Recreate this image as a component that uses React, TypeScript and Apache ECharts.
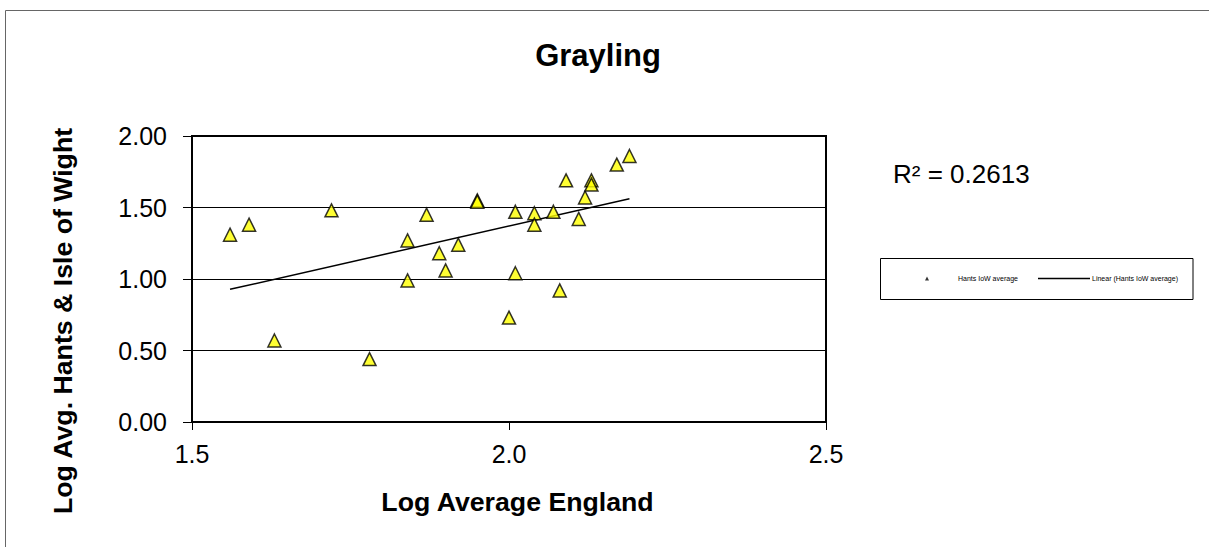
import React, { useEffect, useRef } from "react";
import * as echarts from "echarts";

const englandLog = [1.56, 1.59, 1.63, 1.72, 1.78, 1.84, 1.84, 1.87, 1.89, 1.9, 1.92, 1.95, 1.95, 2.0, 2.01, 2.01, 2.04, 2.04, 2.07, 2.08, 2.09, 2.11, 2.12, 2.13, 2.13, 2.17, 2.19];
const hantsLog = [1.31, 1.38, 0.57, 1.48, 0.44, 1.27, 0.99, 1.45, 1.18, 1.06, 1.24, 1.55, 1.54, 0.73, 1.47, 1.04, 1.46, 1.38, 1.47, 0.92, 1.69, 1.42, 1.57, 1.69, 1.66, 1.8, 1.86];
const xTicks = { min: 1.5, max: 2.5, interval: 0.5 };
const yTicks = { min: 0, max: 2, interval: 0.5 };
const titleText = "Grayling";
const xName = "Log Average England";
const yName = "Log Avg. Hants & Isle of Wight";
const seriesName = "Hants IoW average";
const trendName = "Linear (Hants IoW average)";
const r2Text = "R² = 0.2613";

const FONT = "'Liberation Sans', Arial, sans-serif";

function linearFit(xs: number[], ys: number[]) {
  const n = xs.length;
  const mx = xs.reduce((a, b) => a + b, 0) / n;
  const my = ys.reduce((a, b) => a + b, 0) / n;
  let sxy = 0;
  let sxx = 0;
  for (let i = 0; i < n; i++) {
    sxy += (xs[i] - mx) * (ys[i] - my);
    sxx += (xs[i] - mx) * (xs[i] - mx);
  }
  const slope = sxy / sxx;
  return { slope, intercept: my - slope * mx };
}

export default function App() {
  const ref = useRef<HTMLDivElement>(null);
  useEffect(() => {
    if (!ref.current) return;
    const chart = echarts.init(ref.current, null, { renderer: "svg" });
    const pts = englandLog.map((x, i) => [x, hantsLog[i]]);
    const fit = linearFit(englandLog, hantsLog);
    const x0 = Math.min(...englandLog);
    const x1 = Math.max(...englandLog);
    const trend = [
      [x0, fit.intercept + fit.slope * x0],
      [x1, fit.intercept + fit.slope * x1],
    ];
    chart.setOption({
      animation: false,
      backgroundColor: "#ffffff",
      title: {
        text: titleText,
        left: 598,
        top: 40,
        textAlign: "center",
        padding: 0,
        textStyle: { fontFamily: FONT, fontSize: 31, fontWeight: "bold", color: "#000" },
      },
      grid: {
        left: 192,
        top: 136,
        width: 634,
        height: 286,
        show: true,
        borderColor: "#000",
        borderWidth: 2,
        backgroundColor: "transparent",
      },
      xAxis: {
        type: "value",
        min: xTicks.min,
        max: xTicks.max,
        interval: xTicks.interval,
        name: xName,
        nameLocation: "middle",
        nameGap: 66,
        nameTextStyle: { fontFamily: FONT, fontSize: 26.7, fontWeight: "bold", color: "#000", padding: [0, 0, 0, 17] },
        axisLine: { show: true, lineStyle: { color: "#000", width: 2 } },
        axisTick: { show: true, inside: false, length: 8, lineStyle: { color: "#000", width: 1 } },
        axisLabel: {
          margin: 19,
          fontFamily: FONT,
          fontSize: 25,
          color: "#000",
          formatter: (v: number) => v.toFixed(1),
        },
        splitLine: { show: false },
      },
      yAxis: {
        type: "value",
        min: yTicks.min,
        max: yTicks.max,
        interval: yTicks.interval,
        name: yName,
        nameLocation: "middle",
        nameGap: 116,
        nameTextStyle: { fontFamily: FONT, fontSize: 26.7, fontWeight: "bold", color: "#000", padding: [0, 84, 0, 0] },
        axisLine: { show: true, lineStyle: { color: "#000", width: 2 } },
        axisTick: { show: true, inside: false, length: 9, lineStyle: { color: "#000", width: 1 } },
        axisLabel: {
          margin: 25,
          fontFamily: FONT,
          fontSize: 25,
          color: "#000",
          formatter: (v: number) => v.toFixed(2),
        },
        splitLine: { show: true, lineStyle: { color: "#000", width: 1 } },
      },
      legend: [
        {
          data: [{ name: seriesName, icon: "triangle", itemStyle: { color: "#000", borderWidth: 0 } }],
          left: 925,
          top: 275,
          padding: 0,
          itemWidth: 4,
          itemHeight: 4,
          textStyle: { fontFamily: FONT, fontSize: 7, color: "#000", padding: [0, 0, 0, 24] },
        },
        {
          data: [{ name: trendName, icon: "rect", itemStyle: { color: "#000" } }],
          left: 1038,
          top: 275,
          padding: 0,
          itemWidth: 52,
          itemHeight: 1.5,
          textStyle: { fontFamily: FONT, fontSize: 7, color: "#000", padding: [0, 0, 0, -3] },
        },
      ],
      graphic: [
        { type: "line", shape: { x1: 5.5, y1: 10.5, x2: 1209, y2: 10.5 }, style: { stroke: "#666", lineWidth: 1 } },
        { type: "line", shape: { x1: 5.5, y1: 10.5, x2: 5.5, y2: 547 }, style: { stroke: "#666", lineWidth: 1 } },
        {
          type: "rect",
          shape: { x: 880.5, y: 258.5, width: 312.5, height: 41 },
          style: { fill: "rgba(0,0,0,0)", stroke: "#000", lineWidth: 1 },
        },
        {
          type: "text",
          x: 893,
          y: 174,
          style: { text: r2Text, fontFamily: FONT, fontSize: 26, fill: "#000", align: "left", verticalAlign: "middle" },
        },
      ],
      series: [
        {
          name: trendName,
          type: "line",
          data: trend,
          symbol: "none",
          lineStyle: { color: "#000", width: 1.5 },
          z: 2,
        },
        {
          name: seriesName,
          type: "scatter",
          data: pts,
          symbol: "triangle",
          symbolSize: 13,
          itemStyle: { color: "#FFFF00", borderColor: "#000", borderWidth: 1.5 },
          z: 3,
        },
      ],
    });
    return () => chart.dispose();
  }, []);
  return <div ref={ref} style={{ position: "fixed", left: 0, top: 0, width: 1209, height: 547, background: "#fff" }} />;
}
